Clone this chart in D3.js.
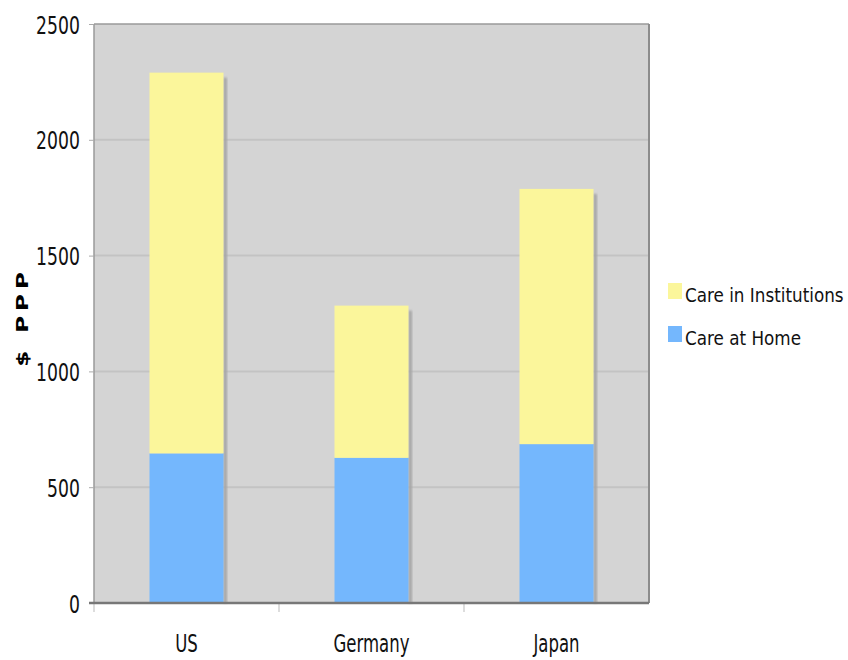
<!DOCTYPE html>
<html>
<head>
<meta charset="utf-8">
<script src="https://cdn.jsdelivr.net/npm/d3@7"></script>
<style>
  html, body { margin: 0; padding: 0; background: #ffffff; }
  svg { display: block; }
</style>
</head>
<body>
<svg id="chart" width="848" height="660"></svg>
<script>
// ---- data ----
const categories = ["US", "Germany", "Japan"];
const careAtHome = [646, 627, 686];
const careInInstitutions = [1644, 657, 1102];
const seriesNames = ["Care at Home", "Care in Institutions"];
const seriesColors = ["#74b7fd", "#fbf69b"];
const yTicks = [0, 500, 1000, 1500, 2000, 2500];
const yTitle = "$ PPP";

// ---- layout ----
const W = 848, H = 660;
const plot = { left: 94, top: 24, right: 649, bottom: 603 };
const axisFont = "'DejaVu Sans', sans-serif";
const squeeze = 0.69; // horizontal compression of the text glyphs

const svg = d3.select("#chart");

const rows = categories.map((c, i) => ({ cat: c, home: careAtHome[i], inst: careInInstitutions[i] }));
const stack = d3.stack().keys(["home", "inst"]);
const stacked = stack(rows);

const x = d3.scaleBand().domain(categories)
  .range([plot.left, plot.right]).paddingInner(0.6).paddingOuter(0.3);
const y = d3.scaleLinear().domain([0, 2500]).range([plot.bottom, plot.top]);

// shadow filter
const defs = svg.append("defs");
const f = defs.append("filter").attr("id", "blur").attr("x", "-20%").attr("y", "-20%").attr("width", "140%").attr("height", "140%");
f.append("feGaussianBlur").attr("stdDeviation", 0.8);

// plot background
svg.append("rect")
  .attr("x", plot.left).attr("y", plot.top)
  .attr("width", plot.right - plot.left).attr("height", plot.bottom - plot.top)
  .attr("fill", "#d4d4d4");

// gridlines
svg.append("g").selectAll("line").data(yTicks.filter(t => t > 0 && t < 2500)).join("line")
  .attr("x1", plot.left).attr("x2", plot.right)
  .attr("y1", d => y(d)).attr("y2", d => y(d))
  .attr("stroke", "#c3c3c3").attr("stroke-width", 2);

// plot border (top, left, right)
svg.append("line").attr("x1", plot.left).attr("x2", plot.right).attr("y1", plot.top).attr("y2", plot.top)
  .attr("stroke", "#9a9a9a").attr("stroke-width", 1.5);
svg.append("line").attr("x1", plot.left).attr("x2", plot.left).attr("y1", plot.top).attr("y2", plot.bottom)
  .attr("stroke", "#9a9a9a").attr("stroke-width", 1.5);
svg.append("line").attr("x1", plot.right).attr("x2", plot.right).attr("y1", plot.top).attr("y2", plot.bottom)
  .attr("stroke", "#8c8c8c").attr("stroke-width", 2);

// bar shadows
svg.append("g").selectAll("rect").data(rows).join("rect")
  .attr("x", d => x(d.cat) + x.bandwidth())
  .attr("y", d => y(d.home + d.inst) + 5)
  .attr("width", 3.5)
  .attr("height", d => plot.bottom - y(d.home + d.inst) - 5)
  .attr("fill", "#a6a6a6")
  .attr("filter", "url(#blur)");

// bars
svg.append("g").selectAll("g").data(stacked).join("g")
  .attr("fill", (d, i) => seriesColors[i])
  .selectAll("rect").data(d => d).join("rect")
  .attr("x", d => x(d.data.cat))
  .attr("y", d => y(d[1]))
  .attr("width", x.bandwidth())
  .attr("height", d => y(d[0]) - y(d[1]));

// y axis
const yAxis = d3.axisLeft(y).tickValues(yTicks).tickSize(5).tickPadding(8).tickFormat(d3.format("d"));
const gy = svg.append("g").attr("transform", `translate(${plot.left},0)`).call(yAxis);
gy.select(".domain").remove();
gy.selectAll(".tick line").attr("stroke", "#aaaaaa");
gy.selectAll(".tick text")
  .attr("font-family", axisFont).attr("font-size", 25).attr("fill", "#111")
  .attr("x", 0).attr("dy", "0.36em")
  .attr("transform", `translate(-14,0) scale(${squeeze},1)`);

// x axis
const xAxis = d3.axisBottom(x).tickSize(0).tickPadding(32);
const gx = svg.append("g").attr("transform", `translate(0,${plot.bottom})`).call(xAxis);
gx.select(".domain").remove();
gx.selectAll(".tick text")
  .attr("font-family", axisFont).attr("font-size", 24).attr("fill", "#111")
  .attr("transform", `scale(${squeeze},1)`);

// category separator ticks below axis
const seps = categories.map(c => x(c) - x.step() * x.paddingInner() / 2);
seps[0] = plot.left;
svg.append("g").selectAll("line").data(seps).join("line")
  .attr("x1", d => d).attr("x2", d => d)
  .attr("y1", plot.bottom).attr("y2", plot.bottom + 9)
  .attr("stroke", "#bbbbbb").attr("stroke-width", 1);

// baseline
svg.append("line").attr("x1", plot.left - 5).attr("x2", plot.right)
  .attr("y1", plot.bottom).attr("y2", plot.bottom)
  .attr("stroke", "#777777").attr("stroke-width", 2.5);

// y title
svg.append("text")
  .attr("transform", `translate(28,317) scale(${squeeze},1) rotate(-90)`)
  .attr("text-anchor", "middle")
  .attr("font-family", "'DejaVu Sans', sans-serif")
  .attr("font-weight", "bold")
  .attr("font-size", 23)
  .attr("letter-spacing", 5)
  .attr("fill", "#000")
  .text(yTitle);

// legend
const legendItems = [
  { name: seriesNames[1], color: seriesColors[1] },
  { name: seriesNames[0], color: seriesColors[0] }
];
const lg = svg.append("g").attr("transform", "translate(668,288)");
const li = lg.selectAll("g").data(legendItems).join("g")
  .attr("transform", (d, i) => `translate(0,${i * 43})`);
li.append("rect").attr("x", 0).attr("y", -5).attr("width", 14).attr("height", 16).attr("fill", d => d.color);
li.append("text").attr("x", 0).attr("y", 14)
  .attr("transform", "translate(17,0) scale(0.84,1)")
  .attr("font-family", "'DejaVu Sans', sans-serif").attr("font-size", 20).attr("fill", "#111")
  .text(d => d.name);
</script>
</body>
</html>
